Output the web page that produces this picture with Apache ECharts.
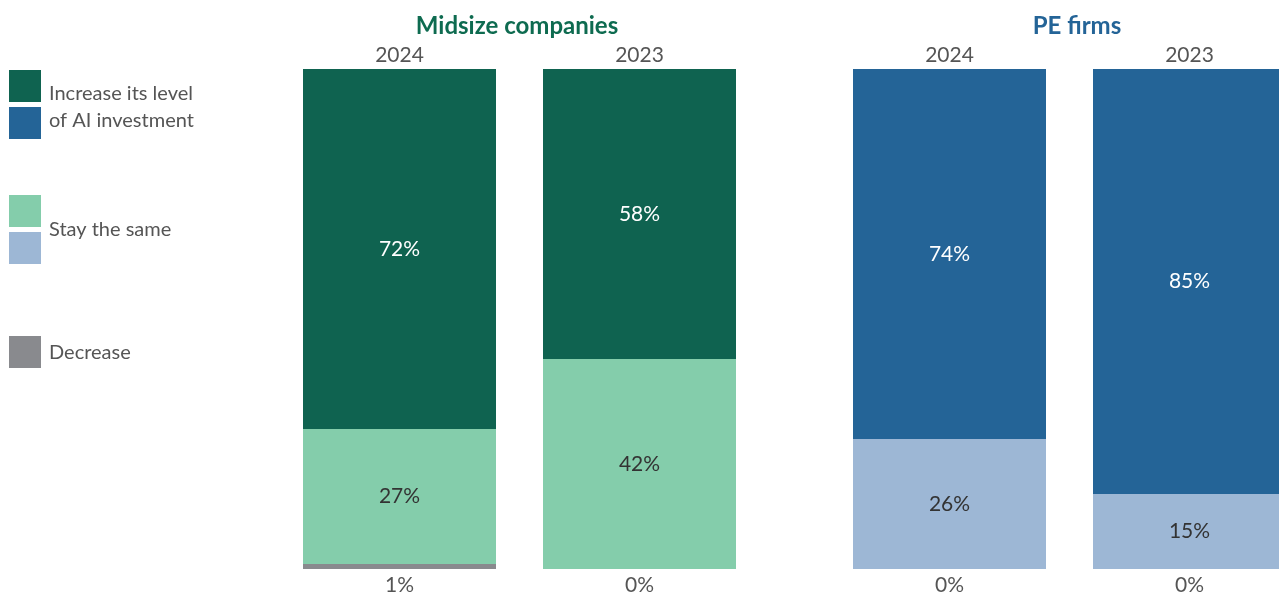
<!DOCTYPE html>
<html>
<head>
<meta charset="utf-8">
<style>
  html, body { margin: 0; padding: 0; background: #ffffff; }
  #chart { width: 1279px; height: 598px; }
</style>
<script src="https://cdn.jsdelivr.net/npm/echarts@6/dist/echarts.min.js"></script>
</head>
<body>
<div id="chart"></div>
<script>
// Survey answers: share of respondents planning to change AI investment
const years = ['2024', '2023'];
const groupTitles = ['Midsize companies', 'PE firms'];

const midsizeIncrease = [72, 58];
const midsizeSame = [27, 42];
const midsizeDecrease = [1, 0];

const peIncrease = [74, 85];
const peSame = [26, 15];
const peDecrease = [0, 0];

const legendLabels = ['Increase its level\nof AI investment', 'Stay the same', 'Decrease'];

const FONT = 'Lato, "Open Sans", sans-serif';
const colors = {
  greenDark: '#0f6350',
  greenLight: '#84cdab',
  blueDark: '#246497',
  blueLight: '#9db7d5',
  gray: '#898a8e',
  text: '#555555',
  inner: '#333333'
};

const chart = echarts.init(document.getElementById('chart'), null, { renderer: 'canvas' });

function insideLabel(color) {
  return {
    show: true,
    position: 'inside',
    color: color,
    fontFamily: FONT,
    fontSize: 21,
    formatter: p => p.value + '%'
  };
}

function stackSeries(idx, dec, same, inc, darkColor, lightColor) {
  const stack = 'g' + idx;
  const base = { type: 'bar', xAxisIndex: idx, yAxisIndex: idx, stack: stack, barWidth: 193, clip: false, silent: true };
  return [
    Object.assign({}, base, {
      data: dec,
      itemStyle: { color: colors.gray },
      label: {
        show: true, position: 'bottom', distance: 6,
        color: colors.text, fontFamily: FONT, fontSize: 21,
        formatter: p => p.value + '%'
      }
    }),
    Object.assign({}, base, {
      data: same,
      itemStyle: { color: lightColor },
      label: insideLabel(colors.inner)
    }),
    Object.assign({}, base, {
      data: inc,
      itemStyle: { color: darkColor },
      label: insideLabel('#ffffff')
    })
  ];
}

// Year ticks sit on the bar centres (grid spans centre to centre)
function xAxisFor(idx) {
  return {
    type: 'category', gridIndex: idx, data: years, position: 'top', boundaryGap: false,
    axisLine: { show: false }, axisTick: { show: false },
    axisLabel: { color: colors.text, fontFamily: FONT, fontSize: 21, margin: 3 }
  };
}

function yAxisFor(idx) {
  return { type: 'value', gridIndex: idx, min: 0, max: 100, show: false };
}

// Legend swatches and labels drawn on the left
const swatches = [
  { y: 70, color: colors.greenDark },
  { y: 107, color: colors.blueDark },
  { y: 195, color: colors.greenLight },
  { y: 232, color: colors.blueLight },
  { y: 336, color: colors.gray }
];
const legendTextY = [107, 230, 353];

const graphic = swatches.map(s => ({
  type: 'rect', left: 9, top: s.y,
  shape: { width: 32, height: 32 },
  style: { fill: s.color }
})).concat(legendLabels.map((t, i) => ({
  type: 'text', x: 49, y: legendTextY[i],
  style: {
    text: t, fill: colors.text, font: '20px ' + FONT,
    lineHeight: 27, verticalAlign: 'middle', align: 'left'
  }
})));

chart.setOption({
  animation: false,
  title: [
    {
      text: groupTitles[0], left: 512, top: 9, textAlign: 'center',
      textStyle: { color: '#0e6b50', fontFamily: FONT, fontWeight: 'bold', fontSize: 24 }
    },
    {
      text: groupTitles[1], left: 1072, top: 9, textAlign: 'center',
      textStyle: { color: '#246497', fontFamily: FONT, fontWeight: 'bold', fontSize: 24 }
    }
  ],
  grid: [
    { left: 399.5, top: 69, width: 240, height: 500 },
    { left: 949.5, top: 69, width: 240, height: 500 }
  ],
  xAxis: [xAxisFor(0), xAxisFor(1)],
  yAxis: [yAxisFor(0), yAxisFor(1)],
  series: [].concat(
    stackSeries(0, midsizeDecrease, midsizeSame, midsizeIncrease, colors.greenDark, colors.greenLight),
    stackSeries(1, peDecrease, peSame, peIncrease, colors.blueDark, colors.blueLight)
  ),
  graphic: graphic
});
</script>
</body>
</html>
